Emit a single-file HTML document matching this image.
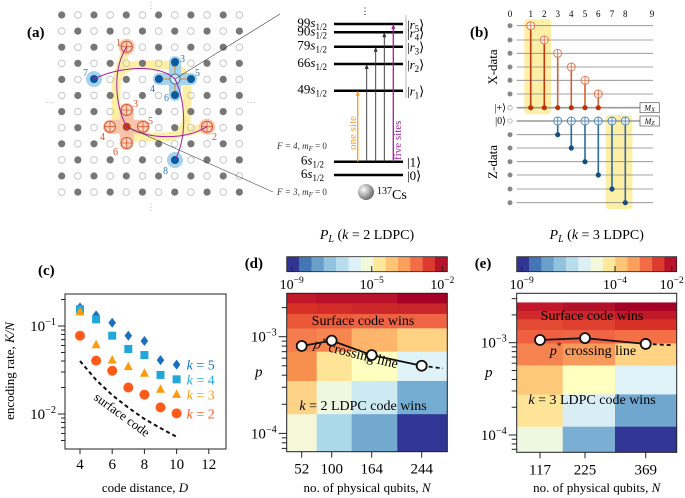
<!DOCTYPE html>
<html><head><meta charset="utf-8"><style>
html,body{margin:0;padding:0;background:#fff;}
svg{display:block;font-family:"Liberation Serif",serif;}
</style></head><body>
<svg id="fig" width="685" height="498" viewBox="0 0 685 498" xmlns="http://www.w3.org/2000/svg">
<g id="pa"></g>
<g id="pb"></g>
<g id="pc"></g>
<g id="pd"></g>
<g id="pe"></g>
</svg>
<script>
// ---------- Panel c data ----------
const cDist = [4,5,6,7,8,9];
const cK5 = [0.163,0.132,0.109,0.0776,0.0675,0.041];
const cK4 = [0.155,0.119,0.0776,0.0548,0.0468,0.0278];
const cK3 = [0.145,0.0613,0.041,0.0345,0.029,0.0191];
const cK2 = [0.0776,0.0404,0.031,0.020,0.0166,0.0119];
const cSurfD = [4,5,6,7,8,9,10];
const cSurf = [0.040,0.0244,0.0164,0.0118,0.0088,0.0069,0.0055];
const cXTicks = [4,6,8,10,12];
// ---------- Panel d data ----------
const dN = ["52","100","164","244"];
const dPEdges = [0.00281,0.00221,0.00172,0.00122,0.0007,0.000348,0.000158,0.0000647];
const dColors = [
 ["#c3172b","#ba122a","#ba122a","#a50026"],
 ["#d73027","#d32c28","#cc2829","#c8262a"],
 ["#ea5739","#ec5c3c","#ee6243","#ef6445"],
 ["#f57c4c","#f68550","#fdb46b","#fed384"],
 ["#f7904f","#fee497","#ffffbf","#dff2f7"],
 ["#fdd388","#eef7e0","#cde9f2","#74add1"],
 ["#f4f8d8","#abd9e9","#74a9cf","#313695"]];
const dCrossP = [0.000802,0.000910,0.000645,0.000501];
const dDashP = [0.000501,0.000470];
// ---------- Panel e data ----------
const eN = ["117","225","369"];
const ePEdges = [0.00273,0.00221,0.00179,0.00137,0.00098,0.000567,0.000275,0.000123,0.0000514];
const eColors = [
 ["#c3172b","#b3102a","#a50026"],
 ["#d02a2a","#c8262a","#c01a2a"],
 ["#e34a33","#e0402f","#d73027"],
 ["#f06040","#ee6445","#f57046"],
 ["#f58350","#f89a5a","#fed384"],
 ["#fdc87a","#ffffbf","#dff2f7"],
 ["#fee497","#d8edf4","#6fa7cf"],
 ["#eef7e0","#7aafd3","#313695"]];
const eCrossP = [0.00107,0.00112,0.00097];
const eDashP = [0.00097,0.00094];
const cbarColors = ["#313695","#4475b4","#6a9fcb","#91c3de","#b7dded","#dcf0f6","#f2f9db","#fee99a","#fdc677","#fba05b","#f26c45","#dc3b2f","#b8132a"];

const NS="http://www.w3.org/2000/svg";
function mk(parent,tag,attrs,text){const e=document.createElementNS(NS,tag);for(const k in attrs)e.setAttribute(k,attrs[k]);if(text!==undefined)e.textContent=text;parent.appendChild(e);return e;}
function pow10(parent,x,y,exp,anchor,size){
  const t=mk(parent,'text',{x:x,y:y,'text-anchor':anchor||'end','font-size':size||15});
  
  
  mk(t,'tspan',{},'10');
  mk(t,'tspan',{dy:-6,'font-size':(size||15)*0.68},'−'+exp);
  return t;
}

// ================= Panel c =================
(function(){
 const g=document.getElementById('pc');
 const X0=65,X1=226,Y0=294,Y1=449;
 const xs=d=>80+(d-4)*16.1;
 const ys=v=>326-(Math.log10(v)+1)*88;
 let t=mk(g,'text',{x:38,y:275,'font-size':15,'font-weight':'bold'},'(c)');
 
 let r=mk(g,'rect',{x:X0,y:Y0,width:X1-X0,height:Y1-Y0,fill:'none',stroke:'#222','stroke-width':1});
 
 cXTicks.forEach(d=>{const x=xs(d);mk(g,'line',{x1:x,x2:x,y1:Y1,y2:Y1+5,stroke:'#222'});
   const tl=mk(g,'text',{x:x,y:Y1+20,'text-anchor':'middle','font-size':15},String(d));
   });
 [0.001,0.01,0.1].forEach(dec=>{for(let m=1;m<10;m++){const v=dec*m;const y=ys(v);if(y<Y0||y>Y1)continue;
   mk(g,'line',{x1:X0-(m==1?7:4),x2:X0,y1:y,y2:y,stroke:'#222'});}});
 pow10(g,X0-9,331,1);pow10(g,X0-9,419,2);
 t=mk(g,'text',{x:145,y:492,'text-anchor':'middle','font-size':13},'code distance, ');
 mk(t,'tspan',{'font-style':'italic'},'D');
 
 t=mk(g,'text',{x:0,y:0,'text-anchor':'middle','font-size':13,transform:'translate(14,371) rotate(-90)'},'encoding rate, ');
 mk(t,'tspan',{'font-style':'italic'},'K/N');
 
 let pts=cSurfD.map((d,i)=>xs(d)+','+ys(cSurf[i])).join(' ');
 let pl=mk(g,'polyline',{points:pts,fill:'none',stroke:'#111','stroke-width':2,'stroke-dasharray':'4,3'});
 
 t=mk(g,'text',{x:0,y:0,'font-size':13,transform:'translate(93,399) rotate(36)'},'surface code');
 
 const series=[[cK5,'#1a6fbf','dia',5],[cK4,'#23a7db','sq',4],[cK3,'#ff9a0d','tri',3],[cK2,'#ff5a1a','circ',2]];
 const legY=[344,388,433,490];
 function marker(x,y,shape,col){
   let e;
   if(shape=='dia')e=mk(g,'polygon',{points:`${x},${y-5} ${x+3.8},${y} ${x},${y+5} ${x-3.8},${y}`,fill:col});
   else if(shape=='sq')e=mk(g,'rect',{x:x-4,y:y-4,width:8,height:8,fill:col});
   else if(shape=='tri')e=mk(g,'polygon',{points:`${x},${y-5} ${x+4.5},${y+3.5} ${x-4.5},${y+3.5}`,fill:col});
   else e=mk(g,'circle',{cx:x,cy:y,r:5,fill:col});
   return e;}
 series.forEach((s,si)=>{
   cDist.forEach((d,i)=>{const e=marker(xs(d),ys(s[0][i]),s[2],s[1]);
     });
   const ly=250+legY[si]/3;
   const e=marker(xs(10),ly,s[2],s[1]);
   
   const lt=mk(g,'text',{x:xs(10)+10,y:ly+5,'font-size':14,fill:s[1]});
   mk(lt,'tspan',{'font-style':'italic'},'k');mk(lt,'tspan',{},' = '+s[3]);
   
 });
})();

// ================= Heatmaps =================
function heat(gid,label,colEdges,ticksX,labels,pEdges,colors,p3y,decade,crossX,crossP,dashX,dashP,X0,X1,Y0,Y1,cbLabelX,cbMidExp,ttl,ylabX,texts){
 const g=document.getElementById(gid);
 const ys=p=>p3y-(Math.log10(p)+3)*decade;
 let t=mk(g,'text',{x:X0-42,y:268,'font-size':15,'font-weight':'bold'},label);
 
 t=mk(g,'text',{x:(X0+X1)/2,y:239,'text-anchor':'middle','font-size':14});
 mk(t,'tspan',{'font-style':'italic'},'P');mk(t,'tspan',{'font-style':'italic','font-size':10,dy:3},'L');
 mk(t,'tspan',{dy:-3},' (');mk(t,'tspan',{'font-style':'italic'},'k');mk(t,'tspan',{},' = '+ttl+' LDPC)');
 
 const cw=(X1-X0)/cbarColors.length;
 cbarColors.forEach((c,i)=>{const r=mk(g,'rect',{x:X0+i*cw,y:256.7,width:cw+0.3,height:15,fill:c});
   });
 mk(g,'rect',{x:X0,y:256.7,width:X1-X0,height:15,fill:'none',stroke:'#222','stroke-width':0.8});
 [X0+5,cbLabelX,X1-5].forEach(x=>mk(g,'line',{x1:x,x2:x,y1:266,y2:271.7,stroke:'#222'}));
 pow10(g,X0+5,289,9,'middle',14);pow10(g,cbLabelX,289,cbMidExp,'middle',14);pow10(g,X1-5,289,2,'middle',14);
 pEdges.slice(0,-1).forEach((p,ri)=>{const ya=Math.max(Y0,ys(p)),yb=Math.min(Y1,ys(pEdges[ri+1]));
   colEdges.slice(0,-1).forEach((x,ci)=>{const r=mk(g,'rect',{x:x,y:ya,width:colEdges[ci+1]-x+0.3,height:yb-ya+0.3,fill:colors[ri][ci]});
     });});
 mk(g,'rect',{x:X0,y:Y0,width:X1-X0,height:Y1-Y0,fill:'none',stroke:'#222','stroke-width':1});
 ticksX.forEach((x,i)=>{mk(g,'line',{x1:x,x2:x,y1:Y1,y2:Y1+6,stroke:'#222'});
   const tl=mk(g,'text',{x:x,y:Y1+22,'text-anchor':'middle','font-size':15},labels[i]);
   });
 [0.00001,0.0001,0.001].forEach(dec=>{for(let m=1;m<10;m++){const y=ys(dec*m);if(y<Y0||y>Y1)continue;
   mk(g,'line',{x1:X0-(m==1?8:5),x2:X0,y1:y,y2:y,stroke:'#222'});}});
 pow10(g,X0-10,ys(0.001)+5,3);pow10(g,X0-10,ys(0.0001)+5,4);
 t=mk(g,'text',{x:ylabX,y:(Y0+Y1)/2+4,'font-size':15,'font-style':'italic'},'p');
 
 t=mk(g,'text',{x:(X0+X1)/2,y:492,'text-anchor':'middle','font-size':13},'no. of physical qubits, ');
 mk(t,'tspan',{'font-style':'italic'},'N');
 
 t=mk(g,'text',{x:texts[0][0],y:texts[0][1],'text-anchor':'middle','font-size':14},'Surface code wins');
 
 t=mk(g,'text',{x:0,y:0,'text-anchor':'middle','font-size':14,transform:`translate(${texts[1][0]},${texts[1][1]}) rotate(${texts[1][2]})`});
 mk(t,'tspan',{'font-style':'italic'},'p');mk(t,'tspan',{'font-size':9,dy:-6},'*');mk(t,'tspan',{dy:6},' crossing line');
 
 t=mk(g,'text',{x:texts[2][0],y:texts[2][1],'text-anchor':'middle','font-size':14});
 mk(t,'tspan',{'font-style':'italic'},'k');mk(t,'tspan',{},' = '+ttl+' LDPC code wins');
 
 const pts=crossX.map((x,i)=>x+','+ys(crossP[i])).join(' ');
 let pl=mk(g,'polyline',{points:pts,fill:'none',stroke:'#111','stroke-width':1.8});
 
 pl=mk(g,'line',{x1:dashX[0],y1:ys(dashP[0]),x2:dashX[1],y2:ys(dashP[1]),stroke:'#111','stroke-width':1.8,'stroke-dasharray':'4,3'});
 
 crossX.forEach((x,i)=>{const c=mk(g,'circle',{cx:x,cy:ys(crossP[i]),r:5,fill:'#fff',stroke:'#111','stroke-width':1.8});
   });
}
heat('pd','(d)',[286.7,316.7,351.7,397.3,447.3],[301.7,331.7,371.7,421.7],dN,dPEdges,dColors,336.7,96.7,
 [301.7,331.7,371.7,421.7],dCrossP,[421.7,443],dDashP,286.7,447.3,293.3,451.7,371.7,5,'2',255,
 [[363,325],[355,358,14],[363,410]]);
heat('pe','(e)',[516.7,562.7,615,676.7],[540,585,645.7],eN,ePEdges,eColors,342.7,92.3,
 [540,585,645.7],eCrossP,[645.7,671.7],eDashP,516.7,676.7,293.3,452.3,615,4,'3',485,
 [[592,320],[593,355,0],[592,404]]);

// ================= Panel a =================
(function(){
 const g=document.getElementById('pa');
 let t=mk(g,'text',{x:27,y:37,'font-size':15,'font-weight':'bold'},'(a)');
 
 const gx=c=>61.7+c*16.15, gy=r=>15+r*16.1;
 mk(g,'text',{x:151,y:8,'text-anchor':'middle','font-size':9,fill:'#aaa'},'⋮');
 mk(g,'text',{x:151,y:210,'text-anchor':'middle','font-size':9,fill:'#aaa'},'⋮');
 mk(g,'text',{x:50,y:105,'text-anchor':'middle','font-size':9,fill:'#aaa'},'⋯');
 mk(g,'text',{x:251,y:105,'text-anchor':'middle','font-size':9,fill:'#aaa'},'⋯');
 let y=mk(g,'path',{d:'M140,65 L163,65 Q187,65 187,89 L187,113 Q187,137 163,137 L140,137 Q116,137 116,113 L116,89 Q116,65 140,65 Z M126.7,46.7 L118,75 M187,132 L207,126.7',fill:'none',stroke:'#fdf0a6','stroke-width':9,'stroke-linecap':'round'});
 
 [[126.7,46.7],[207,126.7]].forEach(p=>mk(g,'circle',{cx:p[0],cy:p[1],r:8,fill:'#fbc3a8'}));
 mk(g,'path',{d:'M110,126.7 L143,126.7 M126.7,110 L126.7,143',stroke:'#fbc3a8','stroke-width':14,'stroke-linecap':'round'});
 [[94,79],[175,160]].forEach(p=>mk(g,'circle',{cx:p[0],cy:p[1],r:8,fill:'#a6d2ec'}));
 mk(g,'path',{d:'M159,79 L191,79 M175,62 L175,95',stroke:'#a6d2ec','stroke-width':12,'stroke-linecap':'round'});
 for(let r=0;r<12;r++)for(let c=0;c<12;c++){
   const x=gx(c),yy=gy(r);
   const d=((r+c)%2==0)?mk(g,'circle',{cx:x,cy:yy,r:3.6,fill:'#777'}):mk(g,'circle',{cx:x,cy:yy,r:3.3,fill:'none',stroke:'#bbb','stroke-width':0.8});
   }
 const oplus=(x,yy,col)=>{mk(g,'circle',{cx:x,cy:yy,r:5.5,fill:'#fbd4c2',stroke:col,'stroke-width':1});
   mk(g,'path',{d:`M${x-5.5},${yy} L${x+5.5},${yy} M${x},${yy-5.5} L${x},${yy+5.5}`,stroke:col,'stroke-width':0.8});};
 [[126.7,46.7],[126.7,110],[110,126.7],[143,126.7],[126.7,143],[207,126.7]].forEach(p=>oplus(p[0],p[1],'#d9542b'));
 mk(g,'circle',{cx:126.7,cy:126.7,r:4,fill:'#c63c0a'});
 mk(g,'path',{d:'M159,79 L191,79 M175,62 L175,95',stroke:'#e08a2a','stroke-width':1});
 [[175,62],[159,79],[191,79],[175,95],[94,79],[175,160]].forEach(p=>mk(g,'circle',{cx:p[0],cy:p[1],r:4,fill:'#0b5c9e'}));
 mk(g,'circle',{cx:175,cy:79,r:5,fill:'#cfe6f4',stroke:'#2a6aa0','stroke-width':0.8});
 let pp=mk(g,'path',{d:'M94,79 C120,66 160,64 175,79 C185,100 188,135 175,160 M126.7,46.7 C112,70 115,105 126.7,126.7 C150,140 185,140 207,126.7',fill:'none',stroke:'#a020a0','stroke-width':1});
 
 mk(g,'line',{x1:175,y1:79,x2:280,y2:14,stroke:'#444','stroke-width':0.6});
 mk(g,'line',{x1:126.7,y1:126.7,x2:273,y2:192,stroke:'#444','stroke-width':0.6});
 const lab=(s,x,yy,col)=>mk(g,'text',{x:x,y:yy,'font-size':10,fill:col},s);
 lab('1',116,46,'#d9542b');lab('3',133,107,'#d9542b');lab('4',100,140,'#d9542b');lab('5',148,124,'#d9542b');lab('6',113,155,'#d9542b');lab('2',212,140,'#d9542b');
 lab('3',180,62,'#2a7ab8');lab('4',150,92,'#2a7ab8');lab('5',195,76,'#2a7ab8');lab('6',164,101,'#2a7ab8');lab('7',83,76,'#2a7ab8');lab('8',163,174,'#2a7ab8');
 const lv=[[24,'99','r5'],[32.3,'90','r4'],[46.7,'79','r3'],[64,'66','r2'],[90.7,'49','r1']];
 lv.forEach(l=>{const ln=mk(g,'line',{x1:334,x2:403,y1:l[0],y2:l[0],stroke:'#000','stroke-width':2.5});
   
   const tx=mk(g,'text',{x:327,y:l[0]+3,'text-anchor':'end','font-size':13},l[1]);
   mk(tx,'tspan',{'font-style':'italic'},'s');mk(tx,'tspan',{'font-size':9,dy:3},'1/2');
   const k=mk(g,'text',{x:407,y:l[0]+5,'font-size':13},'|');mk(k,'tspan',{'font-style':'italic'},'r');mk(k,'tspan',{'font-size':9,dy:3},l[2][1]);mk(k,'tspan',{dy:-3},'⟩');});
 [[161.7,'1'],[175,'0']].forEach(l=>{mk(g,'line',{x1:334,x2:403,y1:l[0],y2:l[0],stroke:'#000','stroke-width':2.5});
   const tx=mk(g,'text',{x:324,y:l[0]+3,'text-anchor':'end','font-size':13},'6');
   mk(tx,'tspan',{'font-style':'italic'},'s');mk(tx,'tspan',{'font-size':9,dy:3},'1/2');
   mk(g,'text',{x:407,y:l[0]+5,'font-size':13},'|'+l[1]+'⟩');});
 mk(g,'text',{x:365,y:14,'text-anchor':'middle','font-size':9},'⋮');
 const arr=[[357.7,90.7,'#ff9a1a'],[366.7,64,'#333'],[375.7,46.7,'#333'],[384.3,32.3,'#333'],[393.3,24,'#a020a0']];
 arr.forEach(a=>{const l=mk(g,'line',{x1:a[0],x2:a[0],y1:161.7,y2:a[1]+4,stroke:a[2],'stroke-width':a[2]=='#333'?0.9:1.3});
   
   mk(g,'polygon',{points:`${a[0]},${a[1]} ${a[0]-2},${a[1]+5} ${a[0]+2},${a[1]+5}`,fill:a[2]});});
 mk(g,'text',{x:0,y:0,'font-size':11,fill:'#ff9a1a',transform:'translate(356,150) rotate(-90)'},'one site');
 mk(g,'text',{x:0,y:0,'font-size':11,fill:'#a020a0',transform:'translate(401,160) rotate(-90)'},'five sites');
 let f=mk(g,'text',{x:277,y:149,'font-size':9,fill:'#333','font-style':'italic'},'F = 4, m');mk(f,'tspan',{'font-size':7,dy:2},'F');mk(f,'tspan',{dy:-2,'font-style':'normal'},' = 0');
 f=mk(g,'text',{x:277,y:195,'font-size':9,fill:'#333','font-style':'italic'},'F = 3, m');mk(f,'tspan',{'font-size':7,dy:2},'F');mk(f,'tspan',{dy:-2,'font-style':'normal'},' = 0');
 const defs=mk(g,'defs',{});const rg=mk(defs,'radialGradient',{id:'ball',cx:'0.35',cy:'0.35',r:'0.7'});
 mk(rg,'stop',{offset:'0','stop-color':'#fff'});mk(rg,'stop',{offset:'1','stop-color':'#666'});
 mk(g,'circle',{cx:366,cy:192,r:8,fill:'url(#ball)'});
 f=mk(g,'text',{x:377,y:199,'font-size':14},'');mk(f,'tspan',{'font-size':10,dy:-5},'137');mk(f,'tspan',{dy:5},'Cs');
 mk(g,'line',{x1:406,x2:406,y1:15,y2:98,stroke:'#888','stroke-width':0.6});
})();

// ================= Panel b =================
(function(){
 const g=document.getElementById('pb');
 let t=mk(g,'text',{x:470,y:37,'font-size':15,'font-weight':'bold'},'(b)');
 
 const colX=[510,530.7,544.3,557.7,571.3,585,598.3,612,625.3,652];
 const rowY=[25.7,40,53.3,67,80.3,94,107.7,121,134.7,148,161.7,175,189,202.7];
 mk(g,'rect',{x:524.3,y:19.3,width:26.7,height:95,rx:3,fill:'#fdf0a6'});
 mk(g,'rect',{x:605.7,y:115,width:26.7,height:94.3,rx:3,fill:'#fdf0a6'});
 colX.forEach((x,i)=>mk(g,'text',{x:x,y:17,'text-anchor':'middle','font-size':9},String(i)));
 rowY.forEach((y,i)=>{const l=mk(g,'line',{x1:516.7,x2:(i==6||i==7)?640:653,y1:y,y2:y,stroke:(i==6||i==7)?'#999':'#888','stroke-width':(i==6||i==7)?1.6:0.8});
   
   if(i==6||i==7)mk(g,'circle',{cx:510,cy:y,r:2.2,fill:'#fff',stroke:'#999','stroke-width':0.7});
   else mk(g,'circle',{cx:510,cy:y,r:2.5,fill:'#888'});});
 [[107.7,'X'],[121,'Z']].forEach(m=>{const r=mk(g,'rect',{x:640,y:m[0]-5,width:19.3,height:10,fill:'#fff',stroke:'#555','stroke-width':0.7});
   
   const tt=mk(g,'text',{x:649.6,y:m[0]+3,'text-anchor':'middle','font-size':8,'font-style':'italic'},'M');mk(tt,'tspan',{'font-size':6,dy:1},m[1]);});
 const tgt=(x,y,col)=>{mk(g,'circle',{cx:x,cy:y,r:4,fill:'#fff',stroke:col,'stroke-width':0.9});
   mk(g,'path',{d:`M${x-4},${y} L${x+4},${y} M${x},${y-4} L${x},${y+4}`,stroke:col,'stroke-width':0.9});};
 for(let c=1;c<=6;c++){const col=c<=2?'#bf3a0c':'#d2603a';const x=colX[c];
   const l=mk(g,'line',{x1:x,x2:x,y1:rowY[c-1],y2:rowY[6],stroke:col,'stroke-width':1.6});
   
   mk(g,'circle',{cx:x,cy:rowY[6],r:2.6,fill:'#b8340a'});tgt(x,rowY[c-1],'#e0744c');}
 for(let c=3;c<=8;c++){const x=colX[c];const r=c+5;
   const l=mk(g,'line',{x1:x,x2:x,y1:rowY[7],y2:rowY[r],stroke:'#2e6a9c','stroke-width':1.6});
   
   mk(g,'circle',{cx:x,cy:rowY[r],r:2.6,fill:'#174e80'});tgt(x,rowY[7],'#4f86b8');}
 mk(g,'text',{x:0,y:0,'text-anchor':'middle','font-size':13,transform:'translate(497,67) rotate(-90)'},'X-data');
 mk(g,'text',{x:0,y:0,'text-anchor':'middle','font-size':13,transform:'translate(497,162) rotate(-90)'},'Z-data');
 mk(g,'text',{x:506,y:111,'text-anchor':'end','font-size':10},'|+⟩');
 mk(g,'text',{x:506,y:124,'text-anchor':'end','font-size':10},'|0⟩');
})();
</script>
</body></html>
